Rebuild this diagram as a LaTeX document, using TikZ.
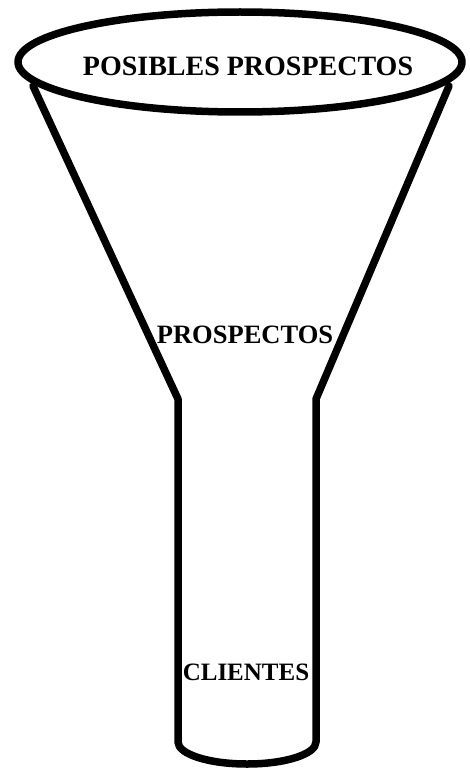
\documentclass[tikz,border=0pt]{standalone}
\usepackage{fontspec}
\setmainfont{Liberation Serif}
\begin{document}
\begin{tikzpicture}[x=1pt,y=-1pt,
  funnel/.style={line width=7.5pt,line join=round,line cap=round},
  lbl/.style={font=\bfseries,inner sep=0pt}]
\useasboundingbox (0,0) rectangle (470,773);
\coordinate (lt) at (33,86);
\coordinate (rt) at (449,86);
\coordinate (lb) at (178,399);
\coordinate (rb) at (316,399);
\coordinate (lend) at (178,742);
\coordinate (rend) at (316,742);
\draw[funnel] (lt) -- (lb) -- (lend) arc[start angle=180,end angle=360,x radius=69,y radius=-22] -- (rb) -- (rt);
\draw[funnel,fill=white] (240,62) ellipse[x radius=222,y radius=-50];
\node[lbl,font=\fontsize{28}{30}\bfseries\selectfont] (top) at (248,66) {POSIBLES PROSPECTOS};
\node[lbl,font=\fontsize{26.5}{30}\bfseries\selectfont] (mid) at (245,335) {PROSPECTOS};
\node[lbl,font=\fontsize{25}{30}\bfseries\selectfont] (bot) at (246,672) {CLIENTES};
\end{tikzpicture}
\end{document}
